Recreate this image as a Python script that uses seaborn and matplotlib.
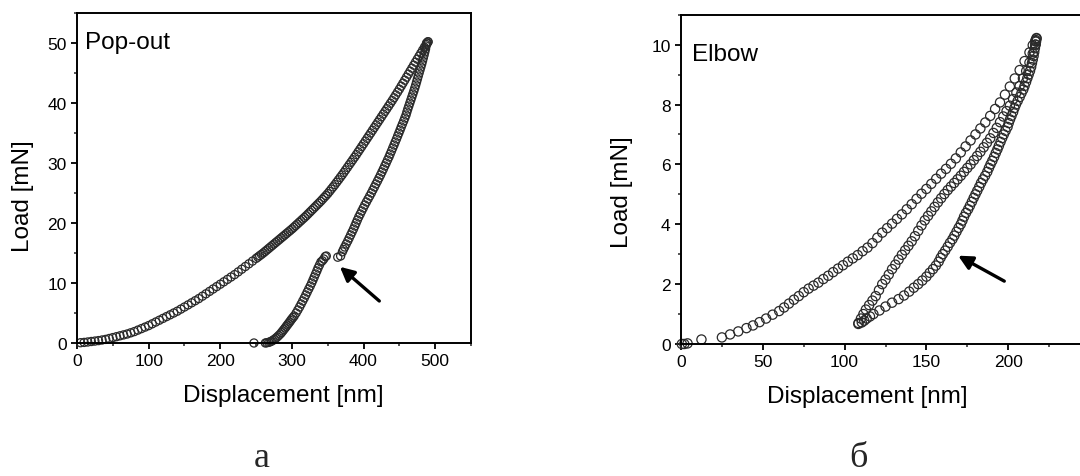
import numpy as np
import pandas as pd
import matplotlib
matplotlib.use("Agg")
import matplotlib.pyplot as plt
import seaborn as sns
from matplotlib.ticker import MultipleLocator

# ---------------- data: panel a (Pop-out) ----------------
popout_load_h = [5, 10, 15, 20, 25, 30, 35, 40, 45, 50, 55, 60, 65, 70, 75, 80, 85, 90, 95, 100,
                 105, 110, 115, 120, 125, 130, 135, 140, 145, 150, 155, 160, 165, 170, 175, 180,
                 185, 190, 195, 200, 205, 210, 215, 220, 225, 230, 235, 240, 245,
                 250, 252.5, 255, 257.5, 260, 262.5, 265, 267.5, 270, 272.5, 275, 277.5, 280,
                 282.5, 285, 287.5, 290, 292.5, 295, 297.5, 300, 302.5, 305, 307.5, 310, 312.5,
                 315, 317.5, 320, 322.5, 325, 327.5, 330, 332.5, 335, 337.5, 340, 342.5, 345,
                 347.5, 350, 352.5, 355, 357.5, 360, 362.5, 365, 367.5, 370, 372.5, 375, 377.5,
                 380, 382.5, 385, 387.5, 390, 392.5, 395, 397.5, 400, 402.5, 405, 407.5, 410,
                 412.5, 415, 417.5, 420, 422.5, 425, 427.5, 430, 432.5, 435, 437.5, 440, 442.5,
                 445, 447.5, 450, 452.5, 455, 457.5, 460, 462.5, 465, 467.5, 470, 472.5, 475,
                 477.5, 480, 482.5, 485, 487.5, 490]
popout_load_p = [0.05, 0.1, 0.17, 0.25, 0.32, 0.4, 0.5, 0.6, 0.75, 0.9, 1.05, 1.2, 1.35, 1.5, 1.7,
                 1.9, 2.15, 2.4, 2.65, 2.9, 3.2, 3.5, 3.8, 4.1, 4.4, 4.7, 5.0, 5.3, 5.65, 6.0, 6.35,
                 6.7, 7.05, 7.4, 7.8, 8.2, 8.6, 9.0, 9.4, 9.8, 10.2, 10.6, 11.0, 11.4, 11.85, 12.3,
                 12.75, 13.2, 13.65,
                 14.1, 14.32, 14.55, 14.77, 15.0, 15.25, 15.5, 15.75, 16.0, 16.25, 16.5, 16.75,
                 17.0, 17.25, 17.5, 17.75, 18.0, 18.25, 18.5, 18.75, 19.0, 19.27, 19.55, 19.82,
                 20.1, 20.37, 20.65, 20.92, 21.2, 21.5, 21.8, 22.1, 22.4, 22.7, 23.0, 23.3, 23.6,
                 23.92, 24.25, 24.57, 24.9, 25.27, 25.65, 26.02, 26.4, 26.8, 27.2, 27.6, 28.0,
                 28.42, 28.85, 29.27, 29.7, 30.12, 30.55, 30.97, 31.4, 31.85, 32.3, 32.75, 33.2,
                 33.65, 34.1, 34.55, 35.0, 35.45, 35.9, 36.35, 36.8, 37.25, 37.7, 38.15, 38.6,
                 39.05, 39.5, 39.95, 40.4, 40.87, 41.35, 41.82, 42.3, 42.8, 43.3, 43.8, 44.3,
                 44.8, 45.3, 45.8, 46.3, 46.8, 47.3, 47.8, 48.3, 48.8, 49.3, 49.75, 50.2]

popout_unload1_h = [490, 489, 488, 487.3, 486.5, 485.5, 484.5, 483.4, 482.3, 481.2, 480, 478.8,
                    477.6, 476.4, 475.2, 474, 472.8, 471.5, 470.2, 468.8, 467.4, 466, 464.6, 463.2,
                    461.8, 460.5, 459.3, 457.6, 456, 454.3, 452.6, 451, 449.3, 447.6, 446, 444.2,
                    442.5, 440.7, 439, 437.2, 435.5, 433.5, 431.6, 429.6, 427.7, 425.7, 423.7,
                    421.6, 419.5, 417.3, 415.2, 413, 410.9, 408.6, 406.3, 404, 401.7, 399.6,
                    397.5, 395.4, 393.3, 391.4, 389.6, 387.8, 386, 384, 382, 380, 378, 375.8,
                    373.7, 372, 370.5, 368, 364]
popout_unload1_p = [50.2, 50.0, 50.0, 49.5, 49.0, 48.5, 48.0, 47.5, 47.0, 46.5, 46.0, 45.5, 45.0,
                    44.5, 44.0, 43.5, 43.0, 42.5, 42.0, 41.5, 41.0, 40.5, 40.0, 39.5, 39.0, 38.5,
                    38.0, 37.5, 37.0, 36.5, 36.0, 35.5, 35.0, 34.5, 34.0, 33.5, 33.0, 32.5, 32.0,
                    31.5, 31.0, 30.5, 30.0, 29.5, 29.0, 28.5, 28.0, 27.5, 27.0, 26.5, 26.0, 25.5,
                    25.0, 24.5, 24.0, 23.5, 23.0, 22.5, 22.0, 21.5, 21.0, 20.5, 20.0, 19.5, 19.0,
                    18.5, 18.0, 17.5, 17.0, 16.5, 16.0, 15.6, 15.2, 14.5, 14.3]

popout_unload2_h = [348, 346.5, 344.5, 342.5, 340.5, 338.5, 336.5, 334.8, 333, 331.2, 329.4,
                    327.6, 325.6, 323.5, 321.4, 319.4, 317.3, 315.1, 312.9, 310.7, 308.3, 305.9,
                    303.2, 301.5, 299.8, 298.3, 296.8, 295.2, 293.6, 292, 290.5, 288.8, 287.2,
                    285.5, 283.8, 281.6, 279.5, 277.5, 275.5, 273.5, 271.5, 269.5, 267.5, 265, 263,
                    247]
popout_unload2_p = [14.5, 14.4, 14.0, 13.7, 13.5, 13.0, 12.5, 12.0, 11.5, 11.0, 10.5, 10.0, 9.5,
                    9.0, 8.5, 8.0, 7.5, 7.0, 6.5, 6.0, 5.5, 5.0, 4.5, 4.25, 4.0, 3.75, 3.5, 3.25,
                    3.0, 2.75, 2.5, 2.25, 2.0, 1.75, 1.5, 1.25, 1.0, 0.8, 0.6, 0.45, 0.3, 0.2, 0.1,
                    0.05, 0.0, 0.0]

# ---------------- data: panel б (Elbow) ----------------
elbow_load_h = [0.5, 2, 4, 12.5, 25, 30, 35, 40, 44, 48, 52, 56, 60, 63, 66, 69, 72, 75, 78, 81,
                84, 87, 90, 93, 96, 99, 102, 105, 108, 111, 114, 117, 120, 123, 126, 129, 132, 135,
                138, 141, 144, 147, 150, 153, 156, 159, 162, 165, 168, 171, 174, 177, 180, 183,
                186, 189, 192, 195, 198, 201, 204, 207, 210, 213, 215, 216.5, 217.3]
elbow_load_p = [0.0, 0.0, 0.02, 0.15, 0.22, 0.32, 0.42, 0.53, 0.62, 0.73, 0.85, 0.98, 1.1, 1.22,
                1.35, 1.48, 1.6, 1.73, 1.85, 1.95, 2.05, 2.17, 2.28, 2.4, 2.52, 2.63, 2.75, 2.86,
                2.97, 3.1, 3.22, 3.37, 3.55, 3.72, 3.87, 4.02, 4.18, 4.33, 4.5, 4.67, 4.85, 5.02,
                5.18, 5.35, 5.52, 5.69, 5.85, 6.02, 6.2, 6.4, 6.6, 6.8, 7.0, 7.2, 7.4, 7.62, 7.85,
                8.07, 8.33, 8.6, 8.87, 9.15, 9.45, 9.74, 9.98, 10.12, 10.22]

elbow_unload_h = [217.3, 217, 216.8, 216.3, 215.9, 215.5, 215.0, 214.5, 214.0, 213.3, 212.5,
                  211.7, 210.9, 210, 209.2, 208.1, 207, 205.8, 204.7, 203.8, 203, 202, 201.1,
                  200.3, 199.6, 198.4, 197.3, 196.3, 195.3, 194.3, 193.4, 192.4, 191.4, 190.3,
                  189.2, 188.2, 187.2, 185.9, 184.6, 183.4, 182.3, 181.1, 180, 178.9, 177.8,
                  176.6, 175.5, 174.2, 173, 172, 171, 169.7, 168.4, 167.1, 165.9, 164.4, 163,
                  161.5, 160, 158.7, 157.5, 155.8, 154, 152, 150, 147.5, 145, 142.3, 139.5,
                  136.3, 133, 129, 125, 121.3, 117.6, 115.5, 113.5, 112, 110.5, 108.4]
elbow_unload_p = [10.2, 10.1, 10.0, 9.88, 9.75, 9.62, 9.5, 9.38, 9.25, 9.12, 9.0, 8.88, 8.75,
                  8.62, 8.5, 8.38, 8.25, 8.12, 8.0, 7.88, 7.75, 7.62, 7.5, 7.38, 7.25, 7.12, 7.0,
                  6.88, 6.75, 6.62, 6.5, 6.38, 6.25, 6.12, 6.0, 5.88, 5.75, 5.62, 5.5, 5.38, 5.25,
                  5.12, 5.0, 4.88, 4.75, 4.62, 4.5, 4.38, 4.25, 4.12, 4.0, 3.88, 3.75, 3.62, 3.5,
                  3.38, 3.25, 3.12, 3.0, 2.88, 2.75, 2.62, 2.5, 2.38, 2.25, 2.12, 2.0, 1.88, 1.75,
                  1.62, 1.5, 1.38, 1.25, 1.12, 1.0, 0.92, 0.85, 0.78, 0.72, 0.67]

elbow_reload_h = [108.5, 110, 111.5, 113, 115, 117, 119, 121, 123, 125, 127, 129, 131, 133, 135,
                  137, 139, 141, 143, 145, 147, 149, 151, 153, 155, 157, 159, 161, 163, 165, 167,
                  169, 171, 173, 175, 177, 179, 181, 183, 185, 187, 189, 191, 193, 195, 197, 199,
                  201, 203, 205, 207, 209, 211, 213, 215, 216.5, 217]
elbow_reload_p = [0.7, 0.85, 1.0, 1.15, 1.3, 1.45, 1.6, 1.8, 2.0, 2.15, 2.32, 2.5, 2.65, 2.82,
                  2.98, 3.13, 3.28, 3.43, 3.6, 3.78, 3.96, 4.13, 4.28, 4.43, 4.58, 4.73, 4.87,
                  5.01, 5.14, 5.26, 5.38, 5.5, 5.62, 5.75, 5.88, 6.0, 6.14, 6.28, 6.42, 6.57,
                  6.72, 6.87, 7.05, 7.22, 7.41, 7.6, 7.78, 7.96, 8.18, 8.4, 8.62, 8.87, 9.12,
                  9.4, 9.7, 10.0, 10.15]

popout_xticks = [0, 100, 200, 300, 400, 500]
popout_yticks = [0, 10, 20, 30, 40, 50]
elbow_xticks = [0, 50, 100, 150, 200]
elbow_yticks = [0, 2, 4, 6, 8, 10]

# ---------------- style ----------------
sns.set_theme(style="ticks")
plt.rcParams["font.family"] = ["Liberation Sans", "DejaVu Sans"]
plt.rcParams["axes.linewidth"] = 1.4

W, H = 1080, 477
fig = plt.figure(figsize=(W / 100, H / 100), dpi=100)

def px_axes(left, top, right, bottom):
    return fig.add_axes([left / W, 1 - bottom / H, (right - left) / W, (bottom - top) / H])

axA = px_axes(77, 14, 471, 344)
axB = px_axes(681, 15.7, 1090, 345)

def frame(df_list, ax, size):
    for xs, ys in df_list:
        d = pd.DataFrame({"h": xs, "p": ys})
        sns.scatterplot(data=d, x="h", y="p", ax=ax, marker="o", s=size,
                        facecolor="none", edgecolor="#2a2a2a", linewidth=0.9,
                        legend=False, clip_on=False)

frame([(popout_load_h, popout_load_p), (popout_unload1_h, popout_unload1_p),
       (popout_unload2_h, popout_unload2_p)], axA, 34)
frame([(elbow_load_h, elbow_load_p), (elbow_unload_h, elbow_unload_p),
       (elbow_reload_h, elbow_reload_p)], axB, 44)

for ax, xlim, ylim, xt, yt, xmin, ymin in [
        (axA, (0, 550), (0, 55), popout_xticks, popout_yticks, 50, 5),
        (axB, (0, 250), (0, 11), elbow_xticks, elbow_yticks, 25, 1)]:
    ax.set_xlim(*xlim)
    ax.set_ylim(*ylim)
    ax.set_xticks(xt)
    ax.set_yticks(yt)
    ax.set_xticklabels([str(v) for v in xt])
    ax.set_yticklabels([str(v) for v in yt])
    ax.xaxis.set_minor_locator(MultipleLocator(xmin))
    ax.yaxis.set_minor_locator(MultipleLocator(ymin))
    ax.tick_params(which="major", direction="out", length=4.5, width=1.3,
                   labelsize=12.5, pad=3, colors="black", top=False, right=False)
    ax.tick_params(which="minor", direction="out", length=2.3, width=1.1,
                   top=False, right=False)
    for sp in ax.spines.values():
        sp.set_visible(True)
        sp.set_color("black")
        sp.set_linewidth(1.4)
    ax.set_xlabel("Displacement [nm]", fontsize=17.5, color="black")
    ax.set_ylabel("Load [mN]", fontsize=17.5, color="black")
    ax.set_facecolor("white")

axA.xaxis.set_label_coords(0.524, -0.125)
axA.yaxis.set_label_coords(-0.11, 0.448)
axB.xaxis.set_label_coords(0.455, -0.125)
axB.yaxis.set_label_coords(-0.117, 0.465)

axA.text(0.02, 0.945, "Pop-out", transform=axA.transAxes, fontsize=17.5,
         ha="left", va="top", color="black")
axB.text(0.027, 0.915, "Elbow", transform=axB.transAxes, fontsize=17.5,
         ha="left", va="top", color="black")

arrow = dict(arrowstyle="-|>,head_length=0.6,head_width=0.3", lw=2.4, color="black",
             shrinkA=0, shrinkB=0, mutation_scale=14)
axA.annotate("", xy=(367, 12.7), xytext=(422, 7.0), arrowprops=arrow)
axB.annotate("", xy=(169.4, 2.95), xytext=(197.6, 2.1), arrowprops=arrow)

fig.text(262 / W, 10 / H, "а", fontsize=26, family=["Liberation Serif", "DejaVu Serif"],
         ha="center", va="baseline")
fig.text(858 / W, 10 / H, "б", fontsize=26, family=["Liberation Serif", "DejaVu Serif"],
         ha="center", va="baseline")

fig.savefig("out.png", dpi=100, facecolor="white")
